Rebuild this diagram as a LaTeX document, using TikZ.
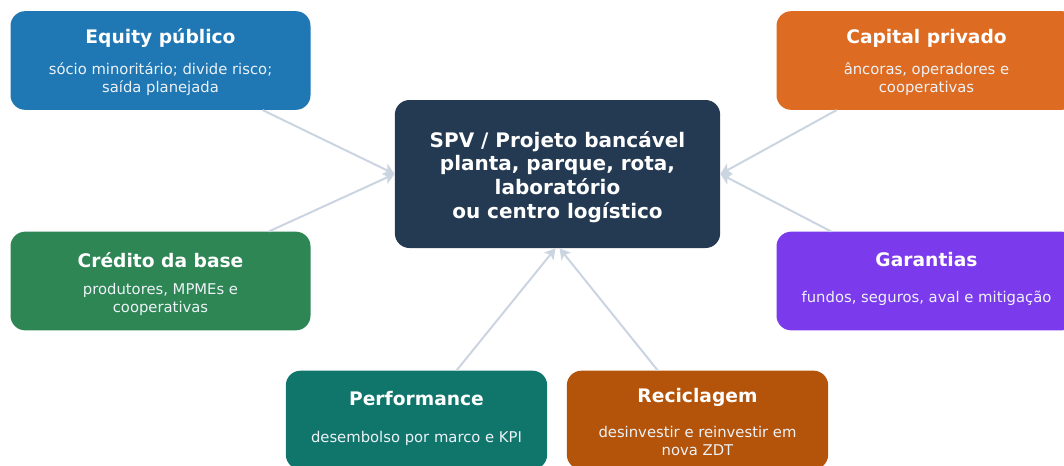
\documentclass[tikz,border=0pt]{standalone}
\usepackage{fontspec}
\setmainfont{DejaVu Sans}
\usepackage{xcolor}
\usetikzlibrary{arrows.meta}
\definecolor{spvblue}{HTML}{243A53}
\definecolor{eqblue}{HTML}{1F77B4}
\definecolor{caporange}{HTML}{DE6B22}
\definecolor{credgreen}{HTML}{2E8655}
\definecolor{garpurple}{HTML}{7C3AED}
\definecolor{perfteal}{HTML}{10766C}
\definecolor{recbrown}{HTML}{B4530A}
\definecolor{linkgray}{HTML}{CBD5E1}
\definecolor{notetxt}{HTML}{EDF2F7}

\begin{document}
\begin{tikzpicture}[x=0.75pt, y=-0.75pt, box/.style={rounded corners=11pt, minimum width=225pt, minimum height=74pt, inner sep=0pt}, small box/.style={box, minimum width=196pt}, head/.style={text=white, font=\fontsize{14}{17}\selectfont\bfseries}, note/.style={text=notetxt, align=center, font=\fontsize{11.1}{13.5}\selectfont}, link/.style={-{Stealth[length=8pt,width=9pt,inset=2pt]}, draw=linkgray, line width=1.5pt}]
\useasboundingbox (0,0) rectangle (1064,465);
\node[box, fill=spvblue, minimum width=244pt, minimum height=111pt] (0) at (557.5,174) {};
\node[text=white, align=center, font=\fontsize{15}{17.8}\selectfont\bfseries] (0a) at (557.5,177) {SPV / Projeto bancável\\planta, parque, rota,\\laboratório\\ou centro logístico};
\node[box, fill=eqblue] (1) at (160.5,60.5) {};
\node[head] (1a) at (160.5,38) {Equity público};
\node[note] (1b) at (160.5,79) {sócio minoritário; divide risco;\\saída planejada};
\node[box, fill=caporange] (2) at (926.5,60.5) {};
\node[head] (2a) at (926.5,38) {Capital privado};
\node[note] (2b) at (926.5,79) {âncoras, operadores e\\cooperativas};
\node[box, fill=credgreen] (3) at (160.5,281) {};
\node[head] (3a) at (160.5,260) {Crédito da base};
\node[note] (3b) at (160.5,299.5) {produtores, MPMEs e\\cooperativas};
\node[box, fill=garpurple] (4) at (926.5,281) {};
\node[head] (4a) at (926.5,260) {Garantias};
\node[note] (4b) at (926.5,298) {fundos, seguros, aval e mitigação};
\node[small box, fill=perfteal] (5) at (416.5,420) {};
\node[head] (5a) at (416.5,399) {Performance};
\node[note] (5b) at (416.5,438) {desembolso por marco e KPI};
\node[small box, fill=recbrown] (6) at (697.5,420) {};
\node[head] (6a) at (697.5,397) {Reciclagem};
\node[note] (6b) at (697.5,440.5) {desinvestir e reinvestir em\\nova ZDT};
\path
(1) edge[link] (0.west)
(3) edge[link] (0.west)
(2) edge[link] (0.east)
(4) edge[link] (0.east)
(5) edge[link] ([xshift=-1.5pt]0.south)
(6) edge[link] ([xshift=1.5pt]0.south);
\end{tikzpicture}
\end{document}
